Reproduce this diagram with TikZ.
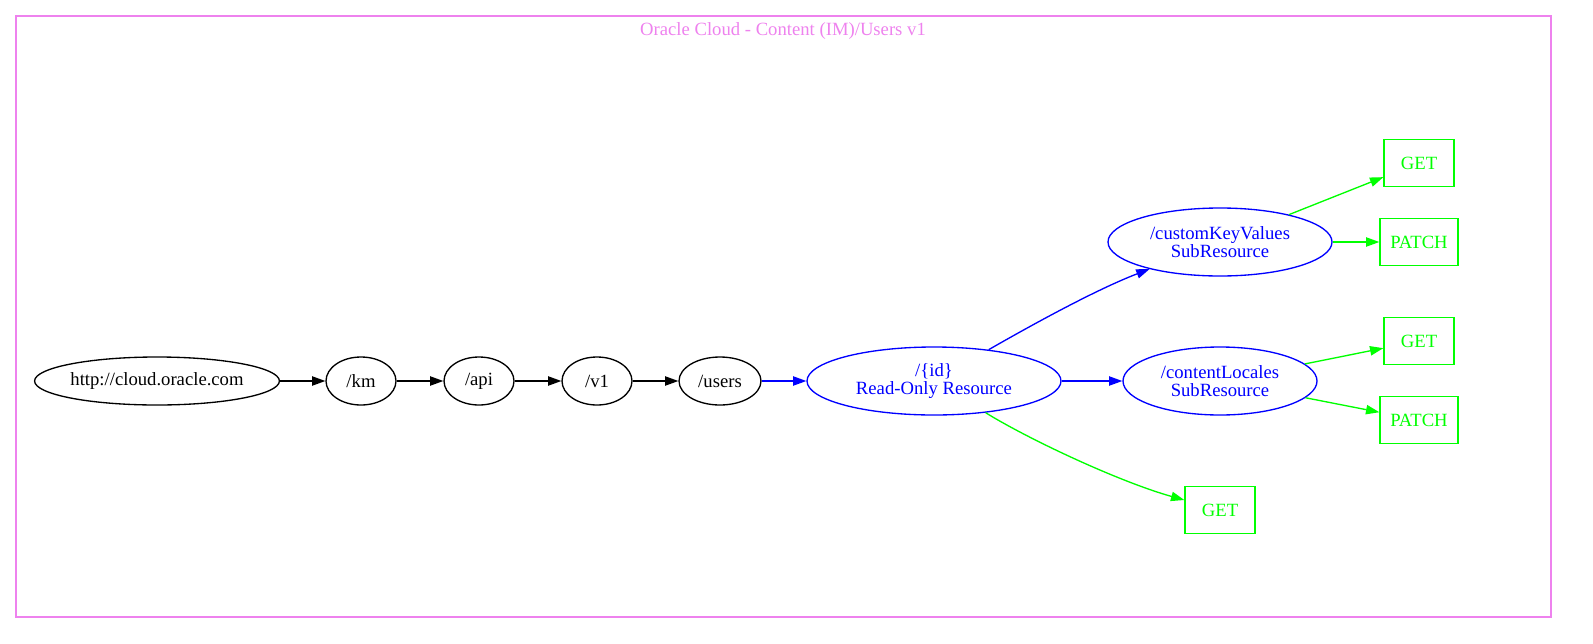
\documentclass[tikz,border=0pt]{standalone}
\usepackage{fontspec}
\setmainfont{Liberation Serif}
\usetikzlibrary{shapes.geometric,arrows.meta}
\definecolor{gvviolet}{HTML}{EE82EE}
\definecolor{gvblue}{HTML}{0000FF}
\definecolor{gvgreen}{HTML}{00FF00}
\tikzset{
  x=0.75pt, y=-0.75pt,
  every node/.style={font=\fontsize{14}{13.5}\selectfont, inner sep=0pt, align=center},
  ell/.style={draw, ellipse, line width=1pt},
  res/.style={ell, draw=gvblue, text=gvblue},
  verb/.style={draw=gvgreen, text=gvgreen, rectangle, line width=1pt, minimum height=35.25pt},
  blk/.style={line width=1pt, -{Triangle[length=10pt,width=7pt]}},
  bl/.style={blk, draw=gvblue},
  gr/.style={blk, draw=gvgreen},
}
\begin{document}
\begin{tikzpicture}
\useasboundingbox (0,0) rectangle (1593,643);
\draw[gvviolet, line width=1pt] (16,16) rectangle (1551,617);
\node[text=gvviolet] (title) at (783,31) {Oracle Cloud - Content (IM)/Users v1};

\node[ell, minimum width=181.5pt, minimum height=36pt] (root) at (157,381) {http://cloud.oracle.com};
\node[ell, minimum width=52.5pt, minimum height=36pt] (km) at (361,381) {/km};
\node[ell, minimum width=52.5pt, minimum height=36pt] (api) at (479,381) {/api};
\node[ell, minimum width=52.5pt, minimum height=36pt] (v1) at (597,381) {/v1};
\node[ell, minimum width=61.5pt, minimum height=36pt] (users) at (720,381) {/users};
\node[res, minimum width=190.5pt, minimum height=51pt] (id) at (934,381) {/\{id\}\\Read-Only Resource};
\node[res, minimum width=168pt, minimum height=51pt] (ckv) at (1220,242) {/customKeyValues\\SubResource};
\node[res, minimum width=145.5pt, minimum height=51pt] (cl) at (1220,381) {/contentLocales\\SubResource};

\node[verb, minimum width=52.5pt] (g1) at (1419,163) {GET};
\node[verb, minimum width=58.5pt] (p1) at (1419,242) {PATCH};
\node[verb, minimum width=52.5pt] (g2) at (1419,341) {GET};
\node[verb, minimum width=58.5pt] (p2) at (1419,420) {PATCH};
\node[verb, minimum width=52.5pt] (g3) at (1220,510) {GET};

\draw[blk] (root) -- (km);
\draw[blk] (km) -- (api);
\draw[blk] (api) -- (v1);
\draw[blk] (v1) -- (users);
\draw[bl] (users) -- (id);
\draw[bl] (id) -- (cl);
\draw[bl] (id) .. controls (1030,326) and (1095,290) .. (ckv);
\draw[gr] (id) .. controls (1030,440) and (1120,482) .. (g3);
\draw[gr] (ckv) -- (g1);
\draw[gr] (ckv) -- (p1);
\draw[gr] (cl) -- (g2);
\draw[gr] (cl) -- (p2);
\end{tikzpicture}
\end{document}
